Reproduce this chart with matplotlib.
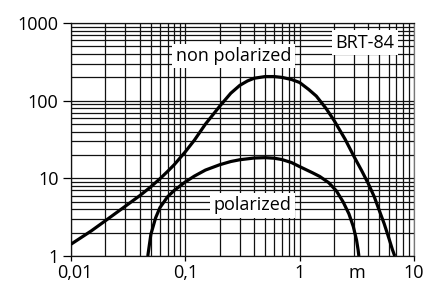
import matplotlib
matplotlib.use("Agg")
import matplotlib.pyplot as plt
from matplotlib.ticker import FixedLocator, NullFormatter, LogLocator
from matplotlib.transforms import ScaledTranslation

plt.rcParams['font.family'] = ['Open Sans', 'DejaVu Sans']

# Data
nonpol_x = [0.01, 0.015, 0.02, 0.03, 0.04, 0.05, 0.06, 0.07, 0.08, 0.1, 0.12, 0.15,
            0.2, 0.25, 0.3, 0.35, 0.4, 0.5, 0.6, 0.7, 0.85, 1.0, 1.2, 1.4, 1.7, 2.0,
            2.5, 3.0, 3.5, 4.0, 4.5, 5.0, 5.5, 6.0, 6.5, 6.8]
nonpol_y = [1.42, 2.1, 2.85, 4.4, 6.0, 7.8, 9.9, 12.3, 15, 22, 31, 50,
            85, 125, 158, 180, 195, 205, 205, 200, 188, 172, 140, 115, 80, 56,
            32, 19, 12.5, 8.5, 5.8, 3.8, 2.6, 1.75, 1.2, 1.0]

pol_x = [0.047, 0.05, 0.055, 0.06, 0.07, 0.08, 0.09, 0.1, 0.12, 0.15, 0.2, 0.25, 0.3, 0.4,
         0.5, 0.6, 0.7, 0.85, 1.0, 1.3, 1.5, 1.8, 2.1, 2.4, 2.7, 2.95, 3.15, 3.25, 3.3]
pol_y = [1.0, 1.9, 3.1, 4.2, 5.8, 7.0, 8.0, 9.0, 10.7, 12.8, 15.0, 16.5, 17.4, 18.3,
         18.5, 18.2, 17.5, 16, 14.2, 11.8, 10.6, 8.8, 6.9, 5.0, 3.5, 2.4, 1.6, 1.2, 1.0]

x_ticks = [0.01, 0.1, 1, 10]
x_ticklabels = ["0,01", "0,1", "1", "10"]
y_ticks = [1, 10, 100, 1000]
y_ticklabels = ["1", "10", "100", "1000"]
unit_label = "m"
unit_pos = 3.16

FS = 13

fig = plt.figure(figsize=(4.38, 2.82), dpi=100)
ax = fig.add_axes([0.162, 0.092, 0.783, 0.826])
ax.set_xscale('log')
ax.set_yscale('log')
ax.set_xlim(0.01, 10)
ax.set_ylim(1, 1000)

ax.xaxis.set_major_locator(FixedLocator(x_ticks))
ax.yaxis.set_major_locator(FixedLocator(y_ticks))
ax.set_xticklabels(x_ticklabels)
ax.set_yticklabels(y_ticklabels)
ax.xaxis.set_minor_locator(LogLocator(base=10, subs=range(2, 10)))
ax.yaxis.set_minor_locator(LogLocator(base=10, subs=range(2, 10)))
ax.xaxis.set_minor_formatter(NullFormatter())
ax.yaxis.set_minor_formatter(NullFormatter())

ax.grid(which='both', color='#111111', linewidth=0.9)
ax.tick_params(axis='y', which='major', direction='out', length=5.5, width=0.9,
               color='black', labelsize=FS, pad=3.5)
ax.tick_params(axis='x', which='major', direction='out', length=3.5, width=0.9,
               color='black', labelsize=FS, pad=2.2)
ax.tick_params(which='minor', length=0)
for s in ax.spines.values():
    s.set_color('#111111')
    s.set_linewidth(0.9)
ax.spines['right'].set_color('#777777')
ax.set_axisbelow(True)

ax.plot(nonpol_x, nonpol_y, color='black', linewidth=2.3, solid_capstyle='butt', zorder=3)
ax.plot(pol_x, pol_y, color='black', linewidth=2.3, solid_capstyle='butt', zorder=3)

box = dict(facecolor='white', edgecolor='none', pad=2.5)
ax.text(0.264, 377, "non polarized", ha='center', va='center', fontsize=FS,
        bbox=box, zorder=4)
ax.text(0.387, 4.5, "polarized", ha='center', va='center', fontsize=FS,
        bbox=box, zorder=4)
ax.text(3.72, 560, "BRT-84", ha='center', va='center', fontsize=FS,
        bbox=box, zorder=4)

fig.canvas.draw()
# unit label placed like a tick label
xl = ax.get_xticklabels()
unit = ax.text(unit_pos, 0, unit_label, transform=xl[1].get_transform(),
               ha='center', va='top', fontsize=FS)
# nudge the first x tick label slightly right, as in the reference
first = ax.xaxis.get_major_ticks()[0].label1
first.set_transform(first.get_transform() + ScaledTranslation(4 / 100, 0, fig.dpi_scale_trans))

fig.savefig("out.png", dpi=100)
